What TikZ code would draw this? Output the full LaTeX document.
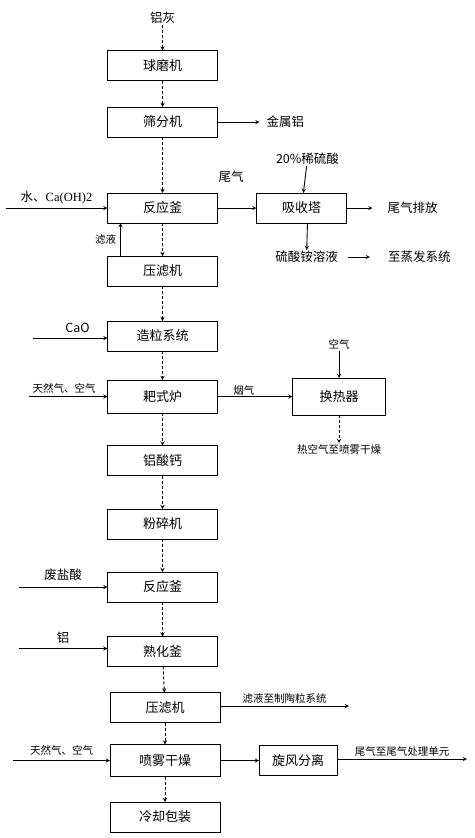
\documentclass[tikz,border=0pt]{standalone}
\usepackage{fontspec}
\setmainfont{Noto Sans CJK SC}
\newfontfamily\latinserif{Liberation Serif}
\usetikzlibrary{arrows, positioning}

\begin{document}
\begin{tikzpicture}[x=1pt, y=-1pt,
  unit/.style={rectangle, draw=black, line width=0.9pt, minimum width=110pt,
               minimum height=30pt, outer sep=0pt,
               font=\fontsize{13}{15}\selectfont, inner sep=2pt},
  lab/.style={font=\fontsize{12.5}{14}\selectfont, inner sep=1pt},
  note/.style={font=\fontsize{10.5}{12}\selectfont, inner sep=1pt},
  arr/.style={->, >=stealth, draw=black, line width=0.9pt},
  darr/.style={arr, dash pattern=on 3pt off 2pt},
  node distance=30pt and 39pt
]
  \useasboundingbox (0,0) rectangle (474,838);
  % main line
  \node[unit] (s1) at (162.5,65.5) {球磨机};
  \node[unit, below=26.5pt of s1] (s2) {筛分机};
  \node[unit, below=56pt of s2] (r1) {反应釜};
  \node[unit, below=33pt of r1] (f1) {压滤机};
  \node[unit, below=35pt of f1] (g1) {造粒系统};
  \node[unit, below=29pt of g1, minimum height=33pt] (k1) {耙式炉};
  \node[unit, below=32.5pt of k1] (c1) {铝酸钙};
  \node[unit, below=33.5pt of c1] (p1) {粉碎机};
  \node[unit, below=33pt of p1] (r2) {反应釜};
  \node[unit, below=34.5pt of r2] (m1) {熟化釜};
  \node[unit, below=26pt of m1, xshift=2.5pt] (f2) {压滤机};
  \node[unit, below=22pt of f2, minimum height=32pt] (d1) {喷雾干燥};
  \node[unit, below=25.5pt of d1] (b1) {冷却包装};
  % side units
  \node[unit, right=39pt of r1, minimum width=90pt] (a1) {吸收塔};
  \node[unit, right=75pt of k1, minimum width=93pt, minimum height=37pt] (h1) {换热器};
  \node[unit, right=39pt of d1, minimum width=78pt, minimum height=30pt] (x1) {旋风分离};

  % labels
  \node[lab, above=26pt of s1] (ash) {铝灰};
  \node[lab, right=48pt of s2] (metal) {金属铝};
  \node[lab, above=27pt of a1, xshift=6pt] (acid) {20\%稀硫酸};
  \node[lab, right=40pt of a1] (vent) {尾气排放};
  \node[lab, below=27pt of a1, xshift=5pt] (sol) {硫酸铵溶液};
  \node[lab, right=48pt of sol] (evap) {至蒸发系统};
  \node[note, above=27pt of h1] (air) {空气};
  \node[note, below=28pt of h1] (hot) {热空气至喷雾干燥};

  \coordinate (w1) at ([xshift=-102pt]r1.west);
  \coordinate (w2) at ([xshift=-75pt, yshift=-2pt]g1.west);
  \coordinate (w3) at ([xshift=-79pt]k1.west);
  \coordinate (w4) at ([xshift=-89pt]r2.west);
  \coordinate (w5) at ([xshift=-89pt, yshift=3pt]m1.west);
  \coordinate (w6) at ([xshift=-97pt]d1.west);
  \coordinate (fb) at ([xshift=13pt]f1.north west);
  \coordinate (o1) at ([xshift=129pt, yshift=1.5pt]f2.east);
  \coordinate (o2) at ([xshift=130pt, yshift=1.5pt]x1.east);

  % flows
  \draw[darr] (ash) -- (s1);
  \draw[darr] (s1) -- (s2); \draw[darr] (s2) -- (r1); \draw[darr] (r1) -- (f1);
  \draw[darr] (f1) -- (g1); \draw[darr] (g1) -- (k1); \draw[darr] (k1) -- (c1);
  \draw[darr] (c1) -- (p1); \draw[darr] (p1) -- (r2); \draw[darr] (r2) -- (m1);
  \draw[darr] (m1) -- (f2); \draw[darr] (f2) -- (d1); \draw[darr] (d1) -- (b1);
  \draw[darr] (h1) -- (hot);

  \draw[arr, shorten >=6pt] (s2) -- (metal);
  \draw[arr] (w1) -- (r1.west) node[lab, midway, above=2pt] (lw1) {水、{\latinserif Ca(OH)2}};
  \draw[arr] (r1) -- (a1) node[lab, pos=0.35, above=24pt] (tail) {尾气};
  \draw[arr] (acid) -- (a1);
  \draw[arr, shorten >=14pt] (a1) -- (vent);
  \draw[arr] (a1.south -| acid) -- (sol);
  \draw[arr, shorten <=9pt, shorten >=17pt] (sol) -- (evap);
  \draw[arr] (fb) -- (fb |- r1.south) node[note, midway, left=3pt] (lf) {滤液};
  \draw[arr] (w2) -- (w2 -| g1.west) node[lab, pos=0.6, above=4pt] (lw2) {CaO};
  \draw[arr] (w3) -- (k1.west) node[note, pos=0.45, above=2pt] (lw3) {天然气、空气};
  \draw[arr] (k1) -- (h1) node[note, pos=0.35, above] (smoke) {烟气};
  \draw[arr] (air) -- (h1);
  \draw[arr] (w4) -- (r2.west) node[lab, midway, above=5pt] (lw4) {废盐酸};
  \draw[arr] (w5) -- (w5 -| m1.west) node[lab, midway, above=4pt] (lw5) {铝};
  \draw[arr] (f2.east |- o1) -- (o1) node[note, midway, above=1pt] (lo1) {滤液至制陶粒系统};
  \draw[arr] (w6) -- (d1.west) node[note, midway, above=4pt] (lw6) {天然气、空气};
  \draw[arr] (d1) -- (x1);
  \draw[arr] (x1.east |- o2) -- (o2) node[note, midway, above=1pt] (lo2) {尾气至尾气处理单元};
\end{tikzpicture}
\end{document}
